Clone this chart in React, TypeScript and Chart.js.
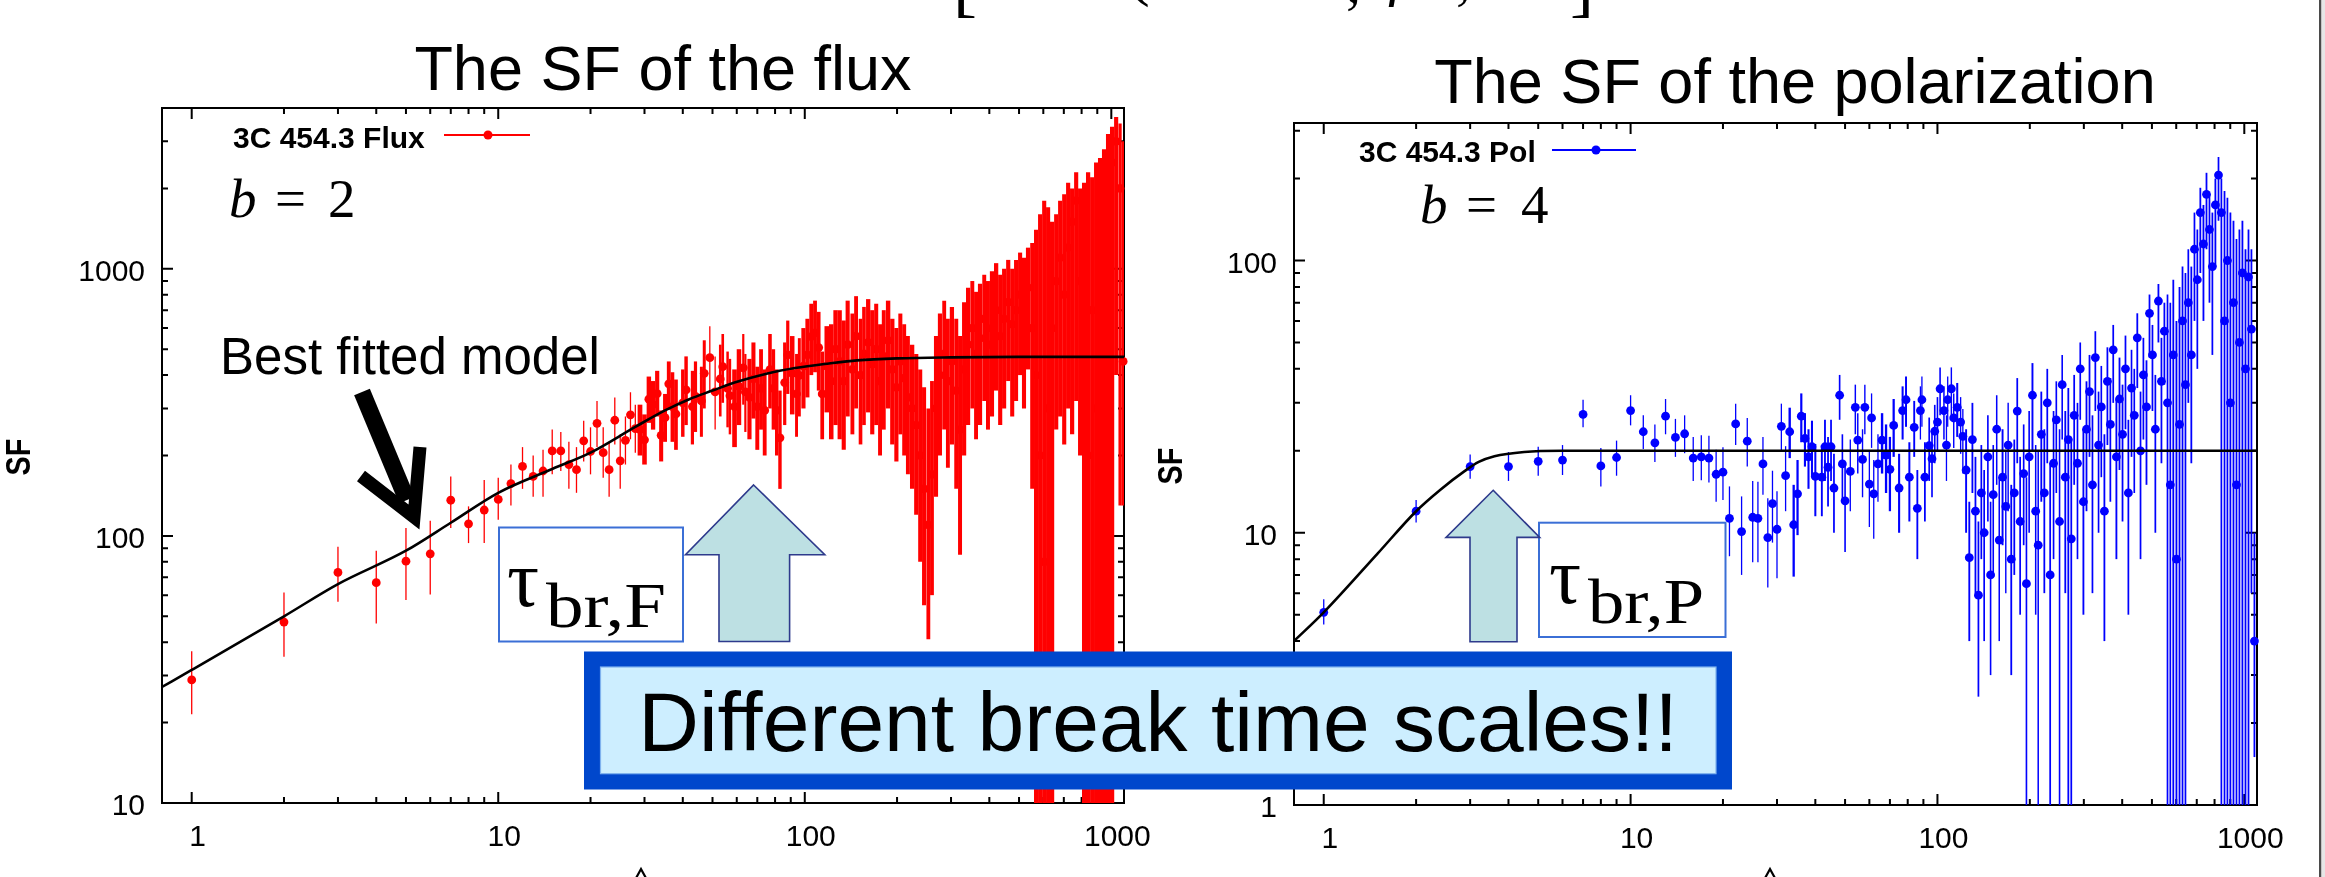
import React, { useEffect, useRef } from "react";
import { Chart, registerables } from "chart.js";

Chart.register(...registerables);

const PAGE_W = 2325;
const PAGE_H = 877;

// ---------- axis ticks ----------
const xTicks = [1, 2, 3, 4, 5, 6, 7, 8, 9, 10, 20, 30, 40, 50, 60, 70, 80, 90, 100, 200, 300, 400, 500, 600, 700, 800, 900, 1000];
const xTickLabels = [1, 10, 100, 1000];
const fluxYTicks = [10, 20, 30, 40, 50, 60, 70, 80, 90, 100, 200, 300, 400, 500, 600, 700, 800, 900, 1000, 2000, 3000, 4000];
const fluxYTickLabels = [10, 100, 1000];
const polYTicks = [1, 2, 3, 4, 5, 6, 7, 8, 9, 10, 20, 30, 40, 50, 60, 70, 80, 90, 100, 200, 300];
const polYTickLabels = [1, 10, 100];

// ---------- flux SF (red) ----------
const fluxDays = [
  1, 2, 3, 4, 5, 6, 7, 8, 9, 10, 11, 12, 13, 14, 15, 16, 17, 18, 19, 20, 21, 22, 23, 24, 25, 26, 27, 28, 29, 30, 31, 32, 33, 34, 35, 36,
  37, 38, 40, 41, 43, 44, 46, 47, 49, 51, 53, 54, 56, 57, 59, 61, 63, 64, 66, 68, 70, 72, 74, 77, 79, 81, 83, 86, 88, 91, 94, 96, 99, 102, 105, 108, 111, 114, 118,
  122, 126, 130, 134, 138, 143, 147, 152, 156, 161, 166, 171, 176, 181, 187, 193, 199, 205, 211, 217, 224, 231, 238, 245, 253, 260, 268, 276, 285, 293,
  302, 312, 321, 331, 341, 352, 362, 373, 385, 396, 408, 421, 434, 447, 461, 475, 489, 504, 519, 535, 552, 568, 586, 604, 622, 641, 661, 681, 702, 723,
  745, 768, 791, 815, 840, 866, 892, 919, 947, 976, 1006, 1037, 1068, 1093,
];
const fluxSF = [
  28.9, 47.6, 73, 66.8, 80.4, 85.7, 136, 111, 125, 137, 157, 182, 167, 175, 208, 208, 185, 177, 227, 207, 264, 205, 177, 271, 191, 228, 284, 252, 250, 229, 325, 310, 341, 238, 277, 371,
  305, 286, 315, 352, 305, 333, 320, 406, 465, 346, 387, 430, 357, 335, 305, 363, 426, 346, 330, 387, 305, 357, 295, 419, 357, 295, 233, 375, 476, 406, 340, 399, 432, 476, 557, 575, 507, 340, 432,
  380, 500, 450, 380, 520, 420, 560, 400, 480, 530, 440, 500, 380, 470, 540, 420, 360, 450, 390, 330, 300, 260, 200, 150, 110, 170, 300, 400, 480, 380,
  450, 350, 250, 420, 520, 600, 480, 550, 650, 520, 600, 700, 560, 650, 750, 620, 700, 800, 680, 850, 600, 400, 200, 80, 300, 600, 900, 1100, 800, 1200,
  1500, 1800, 900, 500, 200, 700, 300, 1200, 1600, 2000, 2500, 3000, 2000, 450,
];
const fluxLow = [
  21.5, 35.3, 56.7, 47, 57.5, 60.4, 107, 94, 94, 115, 130, 150, 140, 140, 170, 175, 150, 145, 190, 170, 215, 165, 140, 220, 150, 185, 230, 205, 200, 185, 265, 250, 280, 190, 225, 300,
  225, 210, 235, 260, 220, 245, 235, 300, 345, 250, 280, 315, 255, 240, 215, 260, 310, 245, 230, 275, 210, 250, 200, 300, 250, 200, 150, 260, 340, 285, 235, 280, 300, 330, 400, 410, 350, 230, 290,
  230, 260, 230, 210, 280, 240, 300, 220, 260, 290, 240, 260, 200, 250, 300, 220, 190, 240, 200, 170, 150, 120, 80, 55, 41, 60, 140, 200, 250, 180,
  220, 150, 85, 200, 260, 300, 230, 260, 320, 250, 280, 350, 260, 300, 380, 280, 320, 400, 300, 420, 150, 5, 5, 5, 5, 5, 250, 280, 220, 300,
  240, 320, 200, 5, 5, 5, 5, 5, 5, 5, 5, 400, 130, 130,
];
const fluxHigh = [
  37, 61.4, 91, 88, 107, 114, 167, 129, 162, 165, 185, 215, 200, 210, 250, 245, 225, 215, 270, 255, 320, 255, 225, 330, 240, 280, 345, 310, 310, 285, 395, 380, 415, 295, 340, 450,
  410, 385, 420, 470, 415, 450, 430, 540, 610, 470, 520, 570, 490, 460, 420, 500, 570, 480, 460, 530, 430, 500, 420, 570, 500, 420, 350, 530, 640, 560, 480, 550, 600, 650, 740, 760, 690, 490, 610,
  620, 700, 700, 640, 760, 680, 790, 650, 720, 770, 700, 740, 620, 700, 760, 650, 600, 680, 620, 560, 520, 480, 420, 360, 300, 380, 560, 680, 760, 650,
  720, 650, 560, 750, 850, 900, 820, 880, 950, 900, 980, 1050, 950, 1000, 1080, 1000, 1080, 1150, 1100, 1200, 1250, 1400, 1600, 1800, 1700, 1500, 1600, 1800, 1900, 2100,
  2000, 2300, 2000, 2100, 2300, 2200, 2500, 2600, 2800, 3200, 3400, 3700, 3500, 3000,
];
// best fitted model
const fluxModelDays = [0.8, 1, 2, 3, 5, 7, 10, 15, 20, 28, 35, 42, 50, 59, 75, 93, 120, 148, 200, 300, 500, 1100];
const fluxModelSF = [27.2, 31.5, 50, 66, 88, 112, 145, 178, 205, 256, 295, 325, 350, 375, 405, 425, 442, 454, 462, 466, 468, 468];

// ---------- polarization SF (blue) ----------
const polDays = [
  1, 2, 3, 4, 5, 6, 7, 8, 9, 10, 11, 12, 13, 14, 15, 16, 17, 18, 19, 20, 21, 22, 23, 24, 25, 26, 27, 28, 29, 30, 31, 32, 33, 34, 35, 36, 37, 38, 39, 40,
  42, 43, 44, 45, 46, 48, 49, 50, 52, 54, 55, 57, 58, 60, 61, 62, 64, 66, 68, 70, 72, 75, 77, 79, 81, 84, 86, 88, 89, 91, 94, 96, 98, 100, 102, 105, 107, 108, 111, 113, 116, 119, 121,
  124, 127, 130, 133, 136, 139, 142, 146, 149, 152, 156, 159, 163, 167, 170, 174, 178, 182, 186, 191,
  195, 199, 204, 209, 213, 218, 223, 228, 233, 239, 244, 250, 255, 261, 267, 273, 279, 286, 292, 299,
  306, 313, 320, 327, 335, 342, 350, 358, 366, 374, 383, 392, 401, 410, 419, 429, 438, 448, 459, 469,
  480, 491, 502, 513, 525, 537, 549, 562, 574, 587, 601, 615, 629, 643,
  657, 672, 688, 703, 719, 736, 753, 770, 787, 805, 824, 842, 862, 881, 901, 922, 943, 964, 986, 1009, 1032, 1055, 1079,
];
const polSF = [
  5.1, 12.0, 17.5, 17.5, 18.3, 18.5, 27.2, 17.6, 18.9, 28.1, 23.5, 21.4, 26.8, 22.4, 23.1, 18.8, 19.0, 18.8, 16.4, 16.7,
  11.3, 25.1, 10.1, 21.7, 11.4, 11.3, 17.9, 9.6, 12.8, 10.3, 24.6, 16.2, 23.5, 10.7, 13.9, 26.8, 22.2, 19.0, 20.7, 16.1,
  16, 20.7, 17.4, 20.7, 14.6, 32, 17.9, 13.1, 16.8, 28.9, 21.9, 18.6, 28.9, 15.1, 26.4, 13.9, 17.9, 21.9, 19.3, 17.1,
  24.8, 14.6, 28.1, 30.8, 16, 24.4, 12.3, 28.1, 30.8, 16, 20.9, 18.7, 23.6, 25.5, 33.8, 28.1, 21, 30.8, 33.8, 26.4, 28.9, 25.5, 22.6,
  17, 8.1, 22, 12, 5.9, 14, 10, 19, 7, 13.8, 24, 9.4, 16, 12.5, 21, 8, 14, 28, 11, 16.5,
  6.5, 19, 32, 12, 9, 23, 14, 30, 7, 18, 26, 11, 35, 16, 22, 9.5, 27, 18, 40, 13,
  24, 33, 15, 44, 21, 29, 12, 36, 25, 47, 19, 31, 23, 40, 14, 34, 27, 52, 20, 38,
  29, 64, 45, 24, 71, 36, 55, 30, 15, 45, 8, 25, 60, 35,
  70, 45, 110, 85, 150, 115, 175, 130, 95, 160, 206, 150, 60, 100, 30, 70, 15, 50, 90, 40, 87, 56, 4,
];
const polLow = [
  4.6, 10.9, 15.8, 15.5, 16.2, 16.3, 24.4, 14.8, 16.2, 24.8, 20.3, 18.2, 23.0, 19.0, 19.6, 15.5, 15.6, 15.3, 13.0, 13.2,
  8.2, 21.0, 7.0, 17.5, 7.8, 7.8, 13.8, 6.3, 9.2, 6.8, 20.0, 12.0, 18.8, 6.9, 9.8, 21.5, 17.5, 14.5, 16.0, 11.5,
  11.5, 15.5, 12.5, 15.5, 10, 26, 13, 8.5, 12, 23, 16.5, 13.5, 23, 10.5, 20.5, 9.5, 13, 16.5, 14, 12,
  19, 10, 22, 24.5, 11, 19, 8, 22, 24.5, 11, 15.5, 13.5, 18, 20, 27, 22, 15.5, 24.5, 27, 20.5, 22.5, 19.5, 16.5,
  10, 4, 14, 6, 2.5, 8, 4, 11, 3, 7, 15, 4, 9, 6, 12, 3, 7, 18, 5, 9,
  0.5, 10, 20, 5, 0.5, 13, 6, 18, 0.5, 8, 14, 0.5, 22, 6, 0.5, 0.5, 15, 8, 26, 5,
  12, 19, 6, 28, 10, 16, 4, 21, 13, 30, 8, 17, 11, 24, 5, 19, 14, 34, 8, 22,
  15, 44, 28, 10, 50, 18, 35, 0.5, 0.5, 0.5, 0.5, 0.5, 0.5, 0.5,
  30, 18, 60, 40, 90, 60, 110, 70, 45, 95, 140, 0.5, 0.5, 0.5, 0.5, 0.5, 0.5, 0.5, 0.5, 0.5, 0.5, 6, 1.5,
];
const polHigh = [
  5.7, 13.2, 19.4, 19.8, 20.7, 21.0, 30.8, 20.5, 21.8, 32.0, 27.0, 25.0, 31.0, 26.2, 27.0, 22.5, 22.8, 22.7, 20.2, 20.6,
  14.8, 29.8, 13.6, 26.4, 15.5, 15.4, 22.5, 13.4, 16.9, 14.2, 29.8, 20.8, 28.8, 15.0, 18.5, 32.5, 27.5, 24.0, 25.8, 21.2,
  21, 26, 22.5, 26, 19.5, 38, 23, 18, 22, 35, 27.5, 24, 35, 20, 32.5, 18.5, 23, 27.5, 25, 22.5,
  31, 19.5, 34.5, 37.5, 21.5, 30.5, 17, 34.5, 37.5, 21.5, 26.5, 24, 29.5, 31.5, 40.5, 34.5, 27, 37.5, 40.5, 32.5, 35.5, 31.5, 28.5,
  24, 13, 30, 19, 11, 21, 17, 27, 13, 21, 32, 16, 24, 20, 30, 15, 22, 37, 19, 25,
  16, 28, 42, 21, 20, 33, 24, 40, 18, 28, 36, 24, 45, 28, 34, 22, 38, 30, 50, 24,
  36, 45, 27, 55, 33, 41, 23, 48, 37, 58, 31, 44, 35, 53, 26, 47, 40, 64, 33, 52,
  43, 75, 58, 38, 82, 52, 70, 75, 70, 85, 60, 80, 95, 90,
  110, 95, 150, 130, 185, 160, 210, 175, 150, 200, 240, 200, 180, 170, 150, 140, 120, 130, 140, 110, 130, 110, 10,
];
const polModelDays = [0.8, 1, 1.5, 2, 2.4, 2.87, 3.2, 3.6, 4.5, 6, 1100];
const polModelSF = [4.0, 5.1, 8.4, 12.0, 14.4, 16.8, 18.2, 19.1, 19.8, 20.0, 20.0];

// ---------- panel specs ----------
type PanelSpec = {
  xs: number[];
  ys: number[];
  lo: number[];
  hi: number[];
  mx: number[];
  my: number[];
  color: string;
  yMin: number;
  yMax: number;
  yTicks: number[];
  yLabels: number[];
  denseGap: number;
  denseFactor: number;
  padding: { left: number; top: number; right: number; bottom: number };
};

const TICK_FONT = '30px "Liberation Sans", Arial, sans-serif';

function gnuplotAxes(spec: PanelSpec) {
  return {
    id: "gnuplotAxes",
    beforeDatasetsDraw(chart: any) {
      const { ctx, chartArea: a } = chart;
      const sx = chart.scales.x;
      const sy = chart.scales.y;
      ctx.save();
      ctx.strokeStyle = "#000";
      ctx.lineWidth = 2;
      ctx.beginPath();
      for (const v of xTicks) {
        const px = sx.getPixelForValue(v);
        const len = xTickLabels.includes(v) ? 11 : 6;
        ctx.moveTo(px, a.bottom);
        ctx.lineTo(px, a.bottom - len);
        ctx.moveTo(px, a.top);
        ctx.lineTo(px, a.top + len);
      }
      for (const v of spec.yTicks) {
        const py = sy.getPixelForValue(v);
        const len = spec.yLabels.includes(v) ? 11 : 6;
        ctx.moveTo(a.left, py);
        ctx.lineTo(a.left + len, py);
        ctx.moveTo(a.right, py);
        ctx.lineTo(a.right - len, py);
      }
      ctx.stroke();
      ctx.strokeRect(a.left, a.top, a.right - a.left, a.bottom - a.top);

      // error bars: where samples are closely packed the bars merge, as in the original
      ctx.beginPath();
      ctx.rect(a.left, a.top, a.right - a.left, a.bottom - a.top);
      ctx.clip();
      const n = Math.min(spec.xs.length, spec.lo.length, spec.hi.length);
      const pxs: number[] = [];
      for (let i = 0; i < n; i++) pxs.push(sx.getPixelForValue(spec.xs[i]));
      ctx.strokeStyle = spec.color;
      for (let i = 0; i < n; i++) {
        const gPrev = i > 0 ? pxs[i] - pxs[i - 1] : Infinity;
        const gNext = i < n - 1 ? pxs[i + 1] - pxs[i] : Infinity;
        const g = Math.min(gPrev, gNext);
        ctx.lineWidth = g <= spec.denseGap ? Math.max(1.3, g * spec.denseFactor) : 1.3;
        ctx.beginPath();
        ctx.moveTo(pxs[i], sy.getPixelForValue(spec.lo[i]));
        ctx.lineTo(pxs[i], sy.getPixelForValue(spec.hi[i]));
        ctx.stroke();
      }
      ctx.restore();
    },
    afterDraw(chart: any) {
      const { ctx, chartArea: a } = chart;
      const sx = chart.scales.x;
      const sy = chart.scales.y;
      ctx.save();
      ctx.font = TICK_FONT;
      ctx.fillStyle = "#000";
      ctx.textBaseline = "alphabetic";
      ctx.textAlign = "center";
      for (const v of xTickLabels) {
        ctx.fillText(String(v), sx.getPixelForValue(v) + 6, a.bottom + 43);
      }
      ctx.textAlign = "right";
      for (const v of spec.yLabels) {
        ctx.fillText(String(v), a.left - 17, sy.getPixelForValue(v) + 12);
      }
      ctx.restore();
    },
  };
}

function makeConfig(spec: PanelSpec): any {
  const n = Math.min(spec.xs.length, spec.ys.length);
  const pts = [];
  for (let i = 0; i < n; i++) pts.push({ x: spec.xs[i], y: spec.ys[i] });
  const model = spec.mx.map((x, i) => ({ x, y: spec.my[i] }));
  return {
    type: "scatter",
    data: {
      datasets: [
        {
          label: "model",
          data: model,
          showLine: true,
          borderColor: "#000",
          borderWidth: 2.6,
          pointRadius: 0,
          cubicInterpolationMode: "monotone",
          order: 0,
          clip: 0,
        },
        {
          label: "data",
          data: pts,
          pointRadius: 4.4,
          pointBackgroundColor: spec.color,
          pointBorderWidth: 0,
          pointHoverRadius: 4.4,
          order: 1,
          clip: 4,
        },
      ],
    },
    options: {
      animation: false,
      responsive: false,
      maintainAspectRatio: false,
      events: [],
      layout: { padding: spec.padding },
      plugins: { legend: { display: false }, tooltip: { enabled: false }, title: { display: false } },
      scales: {
        x: { type: "logarithmic", min: 0.8, max: 1100, display: false },
        y: { type: "logarithmic", min: spec.yMin, max: spec.yMax, display: false },
      },
    },
    plugins: [gnuplotAxes(spec)],
  };
}

const fluxPanel: PanelSpec = {
  xs: fluxDays,
  ys: fluxSF,
  lo: fluxLow,
  hi: fluxHigh,
  mx: fluxModelDays,
  my: fluxModelSF,
  color: "#ff0000",
  yMin: 10,
  yMax: 4000,
  yTicks: fluxYTicks,
  yLabels: fluxYTickLabels,
  denseGap: 4.6,
  denseFactor: 1.05,
  padding: { left: 162, top: 108, right: PAGE_W - 1124, bottom: PAGE_H - 803 },
};

const polPanel: PanelSpec = {
  xs: polDays,
  ys: polSF,
  lo: polLow,
  hi: polHigh,
  mx: polModelDays,
  my: polModelSF,
  color: "#0000ff",
  yMin: 1,
  yMax: 320,
  yTicks: polYTicks,
  yLabels: polYTickLabels,
  denseGap: 4,
  denseFactor: 0.6,
  padding: { left: 1294, top: 123, right: PAGE_W - 2257, bottom: PAGE_H - 805 },
};

function SFCanvas({ spec }: { spec: PanelSpec }) {
  const ref = useRef<HTMLCanvasElement>(null);
  useEffect(() => {
    if (!ref.current) return;
    const chart = new Chart(ref.current, makeConfig(spec));
    return () => chart.destroy();
  }, [spec]);
  return (
    <canvas
      ref={ref}
      width={PAGE_W}
      height={PAGE_H}
      style={{ position: "absolute", left: 0, top: 0, width: PAGE_W, height: PAGE_H }}
    />
  );
}

const SANS = "'Liberation Sans', Arial, sans-serif";
const SERIF = "'Liberation Serif', 'Times New Roman', serif";

function Overlay() {
  return (
    <svg
      width={PAGE_W}
      height={PAGE_H}
      style={{ position: "absolute", left: 0, top: 0, pointerEvents: "none" }}
    >
      {/* cut-off formula at the very top */}
      <g fontFamily={SERIF} fill="#000">
        <text x={953} y={8} fontSize={72}>[</text>
        <text x={1126} y={-8} fontSize={72}>(</text>
        <text x={1346} y={2} fontSize={60}>,</text>
        <text x={1388} y={-6} fontSize={60} fontStyle="italic">f</text>
        <text x={1456} y={-2} fontSize={60}>,</text>
        <text x={1570} y={8} fontSize={72}>]</text>
      </g>

      {/* titles */}
      <text x={663} y={90} fontFamily={SANS} fontSize={63} textAnchor="middle" fill="#000">
        The SF of the flux
      </text>
      <text x={1795} y={103} fontFamily={SANS} fontSize={63} textAnchor="middle" fill="#000">
        The SF of the polarization
      </text>

      {/* y-axis titles */}
      <text
        transform="translate(30,457) rotate(-90) scale(0.8,1)"
        fontFamily={SANS}
        fontWeight="bold"
        fontSize={36}
        textAnchor="middle"
        fill="#000"
      >
        SF
      </text>
      <text
        transform="translate(1182,466) rotate(-90) scale(0.8,1)"
        fontFamily={SANS}
        fontWeight="bold"
        fontSize={36}
        textAnchor="middle"
        fill="#000"
      >
        SF
      </text>

      {/* legends */}
      <text x={233} y={148} fontFamily={SANS} fontWeight="bold" fontSize={30} fill="#000">
        3C 454.3 Flux
      </text>
      <line x1={444} y1={135} x2={530} y2={135} stroke="#ff0000" strokeWidth={2} />
      <circle cx={488} cy={135} r={4.5} fill="#ff0000" />
      <text x={1359} y={162} fontFamily={SANS} fontWeight="bold" fontSize={30} fill="#000">
        3C 454.3 Pol
      </text>
      <line x1={1552} y1={150} x2={1636} y2={150} stroke="#0000ff" strokeWidth={2} />
      <circle cx={1596} cy={150} r={4.5} fill="#0000ff" />

      {/* b = 2, b = 4 */}
      <g fontFamily={SERIF} fontSize={55} fill="#000">
        <text x={229} y={217} fontStyle="italic">b</text>
        <text x={275} y={217}>=</text>
        <text x={328} y={217}>2</text>
        <text x={1420} y={223} fontStyle="italic">b</text>
        <text x={1466} y={223}>=</text>
        <text x={1521} y={223}>4</text>
      </g>

      {/* Best fitted model + arrow */}
      <text x={220} y={374} fontFamily={SANS} fontSize={51} fill="#000">
        Best fitted model
      </text>
      <line x1={362} y1={392} x2={407} y2={500} stroke="#000" strokeWidth={17} />
      <polyline
        points="361,476 414,517 420,447"
        fill="none"
        stroke="#000"
        strokeWidth={13}
        strokeLinejoin="miter"
      />

      {/* tau_br,F box */}
      <rect x={499} y={527.5} width={184} height={114} fill="#fff" stroke="#3b6fd6" strokeWidth={2} />
      <text fontFamily={SERIF} fill="#000">
        <tspan x={507} y={606} fontSize={80}>τ</tspan>
      </text>
      <text
        x={546}
        y={627}
        fontFamily={SERIF}
        fontSize={64}
        fill="#000"
        textLength={120}
        lengthAdjust="spacingAndGlyphs"
      >
        br,F
      </text>
      {/* up arrow (flux) */}
      <polygon
        points="753.6,485 824.8,554.7 789.6,554.7 789.6,641.5 719,641.5 719,554.7 685.5,554.7"
        fill="#bde0e3"
        stroke="#2e3a8c"
        strokeWidth={1.6}
      />

      {/* tau_br,P box */}
      <rect x={1539} y={522.7} width={186.5} height={114.3} fill="#fff" stroke="#3b6fd6" strokeWidth={2} />
      <text fontFamily={SERIF} fill="#000">
        <tspan x={1549} y={603} fontSize={80}>τ</tspan>
      </text>
      <text
        x={1588}
        y={623}
        fontFamily={SERIF}
        fontSize={64}
        fill="#000"
        textLength={116}
        lengthAdjust="spacingAndGlyphs"
      >
        br,P
      </text>
      {/* up arrow (pol) */}
      <polygon
        points="1493.2,490.3 1539.7,537.4 1517,537.4 1517,641.7 1470,641.7 1470,537.4 1446,537.4"
        fill="#bde0e3"
        stroke="#2e3a8c"
        strokeWidth={1.6}
      />

      {/* Different break time scales!! */}
      <rect x={584} y={651.5} width={1148} height={138} fill="#0047cc" />
      <rect x={600.5} y={667} width={1115.5} height={106.7} fill="#cdeeff" stroke="#7fb2ee" strokeWidth={1.2} />
      <text x={1158} y={751} fontFamily={SANS} fontSize={84} textAnchor="middle" fill="#000">
        Different break time scales!!
      </text>

      {/* carets cut at the bottom */}
      <polyline points="635,880 641,869 647,880" fill="none" stroke="#000" strokeWidth={2.2} />
      <polyline points="1764,880 1770,869 1776,880" fill="none" stroke="#000" strokeWidth={2.2} />

      {/* right page edge */}
      <rect x={2319} y={0} width={2.5} height={PAGE_H} fill="#4a4a4a" />
      <rect x={2321.5} y={0} width={3.5} height={PAGE_H} fill="#e6e6e6" />
    </svg>
  );
}

export default function App() {
  return (
    <div
      style={{
        position: "fixed",
        left: 0,
        top: 0,
        width: PAGE_W,
        height: PAGE_H,
        overflow: "hidden",
        background: "#fff",
      }}
    >
      <SFCanvas spec={fluxPanel} />
      <SFCanvas spec={polPanel} />
      <Overlay />
    </div>
  );
}
